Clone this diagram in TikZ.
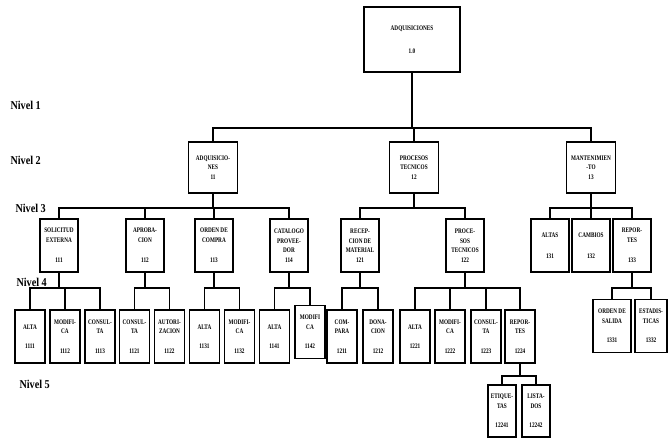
\documentclass[tikz,border=0pt]{standalone}
\usepackage{fontspec}
\setmainfont{Liberation Serif}[FakeStretch=0.75]
\newfontfamily\nivelfont{Liberation Serif}[FakeStretch=0.85]

\begin{document}
\begin{tikzpicture}[
      x=1pt, y=-1pt,
      every node/.style={font=\fontsize{7}{9.5}\selectfont\bfseries},
      box/.style={draw,line width=1.3pt,align=center,inner sep=1pt},
      root/.style={box,minimum width=96pt,minimum height=65pt},
      lvtwo/.style={box,minimum width=49pt,minimum height=51pt},
      lvthree/.style={box,minimum width=38pt,minimum height=53pt},
      lvfour/.style={box,minimum width=30pt,minimum height=53pt},
      lvfive/.style={box,minimum width=28pt,minimum height=52pt},
      nivel/.style={anchor=west,font=\nivelfont\fontsize{12}{14}\selectfont\bfseries},
      link/.style={line width=1.3pt}
  ]
    \useasboundingbox (0,0) rectangle (669,439);

    % bus levels
    \coordinate (b1) at (0,128);
    \coordinate (b2) at (0,208);
    \coordinate (b3) at (0,288);
    \coordinate (b4) at (0,376);

    \node[nivel] (nv1) at (7,105) {Nivel 1};
    \node[nivel] (nv2) at (7,160) {Nivel 2};
    \node[nivel] (nv3) at (12,208) {Nivel 3};
    \node[nivel] (nv4) at (13,282) {Nivel 4};
    \node[nivel] (nv5) at (16,384) {Nivel 5};

    \node[root] (n10) at (412,39.5) {ADQUISICIONES\\[14pt]1.0};

    \node[lvtwo] (n11) at (213,167.5) {ADQUISICIO-\\NES\\11};
    \node[lvtwo] (n12) at (414,167.5) {PROCESOS\\TECNICOS\\12};
    \node[lvtwo] (n13) at (591,167.5) {MANTENIMIEN\\-TO\\13};

    \node[lvthree] (n111) at (59,245.5) {SOLICITUD\\EXTERNA\\[11pt]111};
    \node[lvthree] (n112) at (145,245.5) {APROBA-\\CION\\[11pt]112};
    \node[lvthree] (n113) at (214,245.5) {ORDEN DE\\COMPRA\\[11pt]113};
    \node[lvthree] (n114) at (289,245.5) {CATALOGO\\PROVEE-\\DOR\\114};
    \node[lvthree] (n121) at (360,245.5) {RECEP-\\CION DE\\MATERIAL\\121};
    \node[lvthree] (n122) at (465,245.5) {PROCE-\\SOS\\TECNICOS\\122};
    \node[lvthree] (n131) at (550,245.5) {ALTAS\\[12pt]131};
    \node[lvthree] (n132) at (591,245.5) {CAMBIOS\\[12pt]132};
    \node[lvthree] (n133) at (632,245.5) {REPOR-\\TES\\[11pt]133};

    \node[lvfour] (n1111) at (30,336.5) {ALTA\\[10pt]1111};
    \node[lvfour] (n1112) at (65,336.5) {MODIFI-\\CA\\[10pt]1112};
    \node[lvfour] (n1113) at (100,336.5) {CONSUL-\\TA\\[10pt]1113};
    \node[lvfour] (n1121) at (134.5,336.5) {CONSUL-\\TA\\[10pt]1121};
    \node[lvfour] (n1122) at (169.5,336.5) {AUTORI-\\ZACION\\[10pt]1122};
    \node[lvfour] (n1131) at (204.5,336.5) {ALTA\\[10pt]1131};
    \node[lvfour] (n1132) at (239.5,336.5) {MODIFI-\\CA\\[10pt]1132};
    \node[lvfour] (n1141) at (274.5,336.5) {ALTA\\[10pt]1141};
    \node[lvfour] (n1142) at (310,332) {MODIFI\\CA\\[10pt]1142};
    \node[lvfour] (n1211) at (342,336.5) {COM-\\PARA\\[10pt]1211};
    \node[lvfour] (n1212) at (378,336.5) {DONA-\\CION\\[10pt]1212};
    \node[lvfour] (n1221) at (415,336.5) {ALTA\\[10pt]1221};
    \node[lvfour] (n1222) at (450,336.5) {MODIFI-\\CA\\[10pt]1222};
    \node[lvfour] (n1223) at (486,336.5) {CONSUL-\\TA\\[10pt]1223};
    \node[lvfour] (n1224) at (520,336.5) {REPOR-\\TES\\[10pt]1224};
    \node[lvfour,minimum width=38pt] (n1331) at (612,326) {ORDEN DE\\SALIDA\\[10pt]1331};
    \node[lvfour,minimum width=32pt] (n1332) at (651,326) {ESTADIS-\\TICAS\\[10pt]1332};

    \node[lvfive] (n12241) at (502,411) {ETIQUE-\\TAS\\[10pt]12241};
    \node[lvfive] (n12242) at (536,411) {LISTA-\\DOS\\[10pt]12242};

    % connectors
    \foreach \c in {n11,n12,n13}
      \draw[link] (n10.south) |- (\c.north |- b1) -- (\c.north);
    \foreach \c in {n111,n112,n113,n114}
      \draw[link] (n11.south) |- (\c.north |- b2) -- (\c.north);
    \foreach \c in {n121,n122}
      \draw[link] (n12.south) |- (\c.north |- b2) -- (\c.north);
    \foreach \c in {n131,n132,n133}
      \draw[link] (n13.south) |- (\c.north |- b2) -- (\c.north);
    \foreach \c in {n1111,n1112,n1113}
      \draw[link] (n111.south) |- (\c.north |- b3) -- (\c.north);
    \foreach \c in {n1121,n1122}
      \draw[link] (n112.south) |- (\c.north |- b3) -- (\c.north);
    \foreach \c in {n1131,n1132}
      \draw[link] (n113.south) |- (\c.north |- b3) -- (\c.north);
    \foreach \c in {n1141,n1142}
      \draw[link] (n114.south) |- (\c.north |- b3) -- (\c.north);
    \foreach \c in {n1211,n1212}
      \draw[link] (n121.south) |- (\c.north |- b3) -- (\c.north);
    \foreach \c in {n1221,n1222,n1223,n1224}
      \draw[link] (n122.south) |- (\c.north |- b3) -- (\c.north);
    \foreach \c in {n1331,n1332}
      \draw[link] (n133.south) |- (\c.north |- b3) -- (\c.north);
    \foreach \c in {n12241,n12242}
      \draw[link] (n1224.south) |- (\c.north |- b4) -- (\c.north);
  \end{tikzpicture}
\end{document}
